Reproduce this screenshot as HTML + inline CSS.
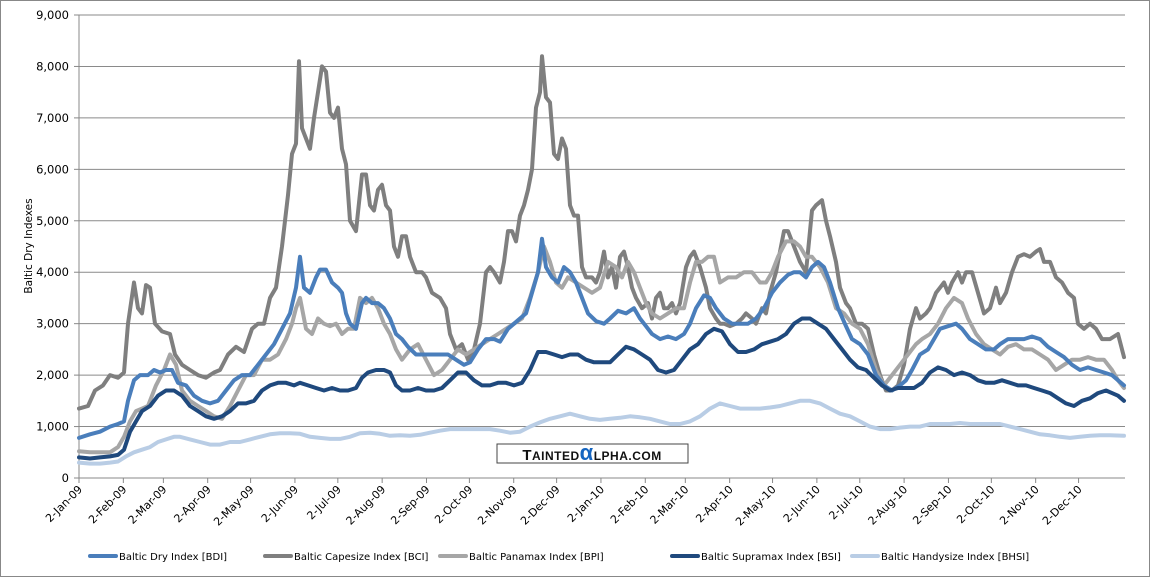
<!DOCTYPE html>
<html><head><meta charset="utf-8"><style>
html,body{margin:0;padding:0;background:#fff}
svg{display:block;font-family:"DejaVu Sans","Liberation Sans",sans-serif}
</style></head><body>
<svg id="s" width="1150" height="577" xmlns="http://www.w3.org/2000/svg">
<rect x="0.5" y="0.5" width="1149" height="576" fill="#fff" stroke="#888"/>
<g id="grid"></g>
<g id="lines" fill="none" stroke-width="4" stroke-linejoin="round" stroke-linecap="round"></g>
<rect x="497" y="444" width="191" height="19" fill="#fff" stroke="#444"/>
<text x="592" y="460" text-anchor="middle" font-family="Liberation Sans,sans-serif" font-size="15" font-weight="bold" fill="#111" letter-spacing="0.5">T<tspan font-size="12">AINTED</tspan><tspan fill="#1565c0" font-size="22" font-weight="bold">α</tspan><tspan font-size="12">LPHA.COM</tspan></text>
<text transform="translate(32,246) rotate(-90)" text-anchor="middle" font-size="10.5" fill="#000">Baltic Dry Indexes</text>
<g id="legend" font-size="10"></g>
</svg>
<script>
const NS="http://www.w3.org/2000/svg";
function el(t,a,p,txt){const e=document.createElementNS(NS,t);for(const k in a)e.setAttribute(k,a[k]);if(txt)e.textContent=txt;p.appendChild(e);return e;}
const X0=79,X1=1125,Y0=478,YT=15;
const yv=v=>Y0-(Y0-YT)*v/9000;
const g=document.getElementById('grid');
for(let i=0;i<=9;i++){const y=yv(i*1000);
 if(i>0) el('line',{x1:X0,x2:X1,y1:y,y2:y,stroke:'#8a8a8a','stroke-width':1},g);
 el('line',{x1:X0-5,x2:X0,y1:y,y2:y,stroke:'#888'},g);
 el('text',{x:69,y:y+4,'text-anchor':'end','font-size':11.5,fill:'#000'},g,i==0?'0':(i+',000'));}
el('line',{x1:X0,x2:X0,y1:YT,y2:Y0,stroke:'#888'},g);
el('line',{x1:X0,x2:X1,y1:Y0,y2:Y0,stroke:'#888'},g);
const months=["Jan","Feb","Mar","Apr","May","Jun","Jul","Aug","Sep","Oct","Nov","Dec"];
const ml=[31,28,31,30,31,30,31,31,30,31,30,31];
let d=0;
for(let i=0;i<24;i++){const x=X0+d*1.43;
 el('line',{x1:x,x2:x,y1:Y0,y2:Y0+5,stroke:'#888'},g);
 el('text',{x:0,y:0,'text-anchor':'end','font-size':11,fill:'#000',transform:`translate(${x+4},${Y0+12}) rotate(-45)`},g,`2-${months[i%12]}-${i<12?'09':'10'}`);
 d+=ml[i%12];}
const S={
bci:[[79,1350],[88,1400],[95,1700],[103,1800],[110,2000],[118,1950],[124,2050],[128,3000],[134,3800],[138,3300],[142,3200],[146,3750],[150,3700],[155,3000],[162,2850],[170,2800],[175,2400],[182,2200],[190,2100],[198,2000],[206,1950],[214,2050],[220,2100],[228,2400],[236,2550],[244,2450],[252,2900],[258,3000],[264,3000],[270,3500],[276,3700],[282,4500],[288,5500],[292,6300],[296,6500],[299,8100],[302,6800],[306,6600],[310,6400],[314,7000],[318,7500],[322,8000],[326,7900],[330,7100],[334,7000],[338,7200],[342,6400],[346,6100],[350,5000],[356,4800],[362,5900],[366,5900],[370,5300],[374,5200],[378,5600],[382,5700],[386,5300],[390,5200],[394,4500],[398,4300],[402,4700],[406,4700],[410,4300],[416,4000],[422,4000],[426,3900],[432,3600],[440,3500],[446,3300],[450,2800],[456,2500],[462,2600],[468,2300],[474,2500],[480,3000],[486,4000],[490,4100],[494,4000],[500,3800],[504,4200],[508,4800],[512,4800],[516,4600],[520,5100],[524,5300],[528,5600],[532,6000],[536,7200],[540,7500],[542,8200],[546,7400],[550,7300],[554,6300],[558,6200],[562,6600],[566,6400],[570,5300],[574,5100],[578,5100],[582,4100],[586,3900],[592,3900],[596,3800],[600,4000],[604,4400],[608,3900],[612,4100],[616,3700],[620,4300],[624,4400],[628,4100],[632,3700],[636,3500],[642,3300],[648,3400],[652,3100],[656,3500],[660,3600],[664,3300],[668,3300],[672,3400],[676,3200],[680,3400],[686,4100],[690,4300],[694,4400],[700,4100],[706,3700],[710,3300],[716,3100],[720,3000],[724,3000],[730,2950],[736,3000],[742,3100],[746,3200],[752,3100],[756,3000],[762,3300],[766,3200],[770,3600],[776,4000],[780,4400],[784,4800],[788,4800],[792,4600],[796,4400],[800,4200],[806,4000],[812,5200],[816,5300],[822,5400],[826,5000],[830,4700],[836,4200],[840,3700],[846,3400],[850,3300],[856,3000],[862,3000],[868,2900],[874,2400],[880,2000],[886,1700],[892,1700],[898,1800],[904,2200],[910,2900],[916,3300],[920,3100],[926,3200],[930,3300],[936,3600],[940,3700],[944,3800],[948,3600],[952,3800],[958,4000],[962,3800],[966,4000],[972,4000],[978,3600],[984,3200],[990,3300],[996,3700],[1000,3400],[1006,3600],[1012,4000],[1018,4300],[1024,4350],[1030,4300],[1036,4400],[1040,4450],[1044,4200],[1050,4200],[1056,3900],[1062,3800],[1068,3600],[1074,3500],[1078,3000],[1084,2900],[1090,3000],[1096,2900],[1102,2700],[1110,2700],[1118,2800],[1124,2350]],
bpi:[[79,520],[90,500],[100,500],[110,500],[118,600],[124,800],[130,1100],[136,1300],[142,1350],[148,1400],[156,1800],[164,2100],[170,2400],[176,2200],[182,1700],[190,1500],[198,1400],[206,1300],[214,1200],[222,1150],[230,1400],[238,1700],[246,2000],[254,2000],[262,2300],[270,2300],[278,2400],[286,2700],[292,3000],[296,3300],[300,3500],[306,2900],[312,2800],[318,3100],[324,3000],[330,2950],[336,3000],[342,2800],[348,2900],[354,2900],[360,3500],[366,3400],[372,3500],[378,3300],[384,3000],[390,2800],[396,2500],[402,2300],[410,2500],[418,2600],[426,2300],[434,2000],[442,2100],[450,2300],[458,2500],[466,2400],[474,2500],[482,2600],[490,2700],[498,2800],[506,2900],[514,3000],[522,3100],[530,3500],[538,4000],[544,4500],[550,4200],[556,3800],[562,3700],[568,3900],[576,3800],[584,3700],[592,3600],[600,3700],[608,4200],[616,4100],[622,3900],[628,4200],[634,4000],[640,3700],[646,3400],[652,3200],[660,3100],[668,3200],[676,3300],[684,3300],[690,3800],[696,4200],[702,4200],[708,4300],[714,4300],[720,3800],[728,3900],[736,3900],[744,4000],[752,4000],[760,3800],[766,3800],[772,4000],[778,4300],[786,4600],[794,4600],[800,4500],[806,4300],[812,4300],[820,4100],[828,3800],[836,3300],[844,3200],[852,3000],[860,2900],[868,2600],[876,2100],[884,1800],[892,2000],[900,2200],[908,2400],[916,2600],[922,2700],[930,2800],[938,3000],[946,3300],[954,3500],[962,3400],[968,3100],[976,2800],[984,2600],[992,2500],[1000,2400],[1008,2550],[1016,2600],[1024,2500],[1032,2500],[1040,2400],[1048,2300],[1056,2100],[1064,2200],[1072,2300],[1080,2300],[1088,2350],[1096,2300],[1104,2300],[1112,2100],[1118,1900],[1124,1750]],
bdi:[[79,780],[90,850],[100,900],[110,1000],[118,1050],[124,1100],[128,1500],[134,1900],[140,2000],[148,2000],[154,2100],[160,2050],[166,2100],[172,2100],[178,1850],[186,1800],[194,1600],[202,1500],[210,1450],[218,1500],[226,1700],[234,1900],[242,2000],[250,2000],[258,2200],[266,2400],[274,2600],[282,2900],[290,3200],[296,3700],[300,4300],[304,3700],[310,3600],[316,3900],[320,4050],[326,4050],[332,3800],[338,3700],[342,3600],[346,3200],[350,3000],[356,2900],[362,3400],[366,3500],[372,3400],[378,3400],[384,3300],[390,3100],[396,2800],[402,2700],[408,2550],[416,2400],[424,2400],[432,2400],[440,2400],[448,2400],[456,2300],[464,2200],[470,2250],[478,2500],[486,2700],[494,2700],[500,2650],[508,2900],[514,3000],[520,3100],[526,3200],[532,3600],[538,4000],[542,4650],[546,4100],[552,3900],[558,3800],[564,4100],[570,4000],[576,3800],[582,3500],[588,3200],[596,3050],[604,3000],[610,3100],[618,3250],[626,3200],[634,3300],[640,3100],[646,2950],[652,2800],[660,2700],[668,2750],[676,2700],[684,2800],[690,3000],[696,3300],[704,3550],[710,3500],[716,3300],[724,3100],[732,3000],[740,3000],[748,3000],[756,3100],[764,3300],[772,3600],[780,3800],[788,3950],[794,4000],[800,4000],[806,3900],[812,4100],[818,4200],[824,4100],[830,3800],[838,3300],[846,2950],[852,2700],[860,2600],[868,2400],[876,2000],[884,1800],[892,1700],[900,1800],[906,1900],[912,2100],[920,2400],[928,2500],[934,2700],[940,2900],[948,2950],[956,3000],[962,2900],[970,2700],[978,2600],[986,2500],[994,2500],[1000,2600],[1008,2700],[1016,2700],[1024,2700],[1032,2750],[1040,2700],[1048,2550],[1056,2450],[1064,2350],[1072,2200],[1080,2100],[1088,2150],[1096,2100],[1104,2050],[1112,2000],[1118,1900],[1124,1800]],
bsi:[[79,400],[90,380],[100,400],[110,420],[118,450],[124,550],[130,900],[136,1100],[142,1300],[150,1400],[158,1600],[166,1700],[174,1700],[182,1600],[190,1400],[198,1300],[206,1200],[214,1150],[222,1200],[230,1300],[238,1450],[246,1450],[254,1500],[262,1700],[270,1800],[278,1850],[286,1850],[294,1800],[300,1850],[308,1800],[316,1750],[324,1700],[332,1750],[340,1700],[348,1700],[356,1750],[362,1950],[368,2050],[376,2100],[384,2100],[390,2050],[396,1800],[402,1700],[410,1700],[418,1750],[426,1700],[434,1700],[442,1750],[450,1900],[458,2050],[466,2050],[474,1900],[482,1800],[490,1800],[498,1850],[506,1850],[514,1800],[522,1850],[530,2100],[538,2450],[546,2450],[554,2400],[562,2350],[570,2400],[578,2400],[586,2300],[594,2250],[602,2250],[610,2250],[618,2400],[626,2550],[634,2500],[642,2400],[650,2300],[658,2100],[666,2050],[674,2100],[682,2300],[690,2500],[698,2600],[706,2800],[714,2900],[722,2850],[730,2600],[738,2450],[746,2450],[754,2500],[762,2600],[770,2650],[778,2700],[786,2800],[794,3000],[802,3100],[810,3100],[818,3000],[826,2900],[834,2700],[842,2500],[850,2300],[858,2150],[866,2100],[874,1950],[882,1800],[890,1700],[898,1750],[906,1750],[914,1750],[922,1850],[930,2050],[938,2150],[946,2100],[954,2000],[962,2050],[970,2000],[978,1900],[986,1850],[994,1850],[1002,1900],[1010,1850],[1018,1800],[1026,1800],[1034,1750],[1042,1700],[1050,1650],[1058,1550],[1066,1450],[1074,1400],[1082,1500],[1090,1550],[1098,1650],[1106,1700],[1112,1650],[1118,1600],[1124,1500]],
bhsi:[[79,300],[90,280],[100,280],[110,300],[118,320],[126,420],[134,500],[142,550],[150,600],[158,700],[166,750],[174,800],[180,800],[190,750],[200,700],[210,650],[220,650],[230,700],[240,700],[250,750],[260,800],[270,850],[280,870],[290,870],[300,860],[310,800],[320,780],[330,760],[340,760],[350,800],[360,870],[370,880],[380,860],[390,820],[400,830],[410,820],[420,840],[430,880],[440,920],[450,950],[460,950],[470,950],[480,950],[490,950],[500,920],[510,880],[520,900],[530,1000],[540,1080],[550,1150],[560,1200],[570,1250],[580,1200],[590,1150],[600,1130],[610,1150],[620,1170],[630,1200],[640,1180],[650,1150],[660,1100],[670,1050],[680,1050],[690,1100],[700,1200],[710,1350],[720,1450],[730,1400],[740,1350],[750,1350],[760,1350],[770,1370],[780,1400],[790,1450],[800,1500],[810,1500],[820,1450],[830,1350],[840,1250],[850,1200],[860,1100],[870,1000],[880,950],[890,950],[900,980],[910,1000],[920,1000],[930,1050],[940,1050],[950,1050],[960,1070],[970,1050],[980,1050],[990,1050],[1000,1050],[1010,1000],[1020,950],[1030,900],[1040,850],[1050,830],[1060,800],[1070,780],[1080,800],[1090,820],[1100,830],[1110,830],[1124,820]]};
const C={bci:'#7f7f7f',bpi:'#a6a6a6',bdi:'#4a7ebb',bsi:'#1f497d',bhsi:'#b9cde5'};
const L=document.getElementById('lines');
for(const k of ['bci','bpi','bdi','bsi','bhsi'])
 el('polyline',{points:S[k].map(p=>p[0]+','+yv(p[1]).toFixed(1)).join(' '),stroke:C[k]},L);
const lg=document.getElementById('legend');
const items=[[88,'bdi','Baltic Dry Index [BDI]'],[263,'bci','Baltic Capesize Index [BCI]'],[438,'bpi','Baltic Panamax Index [BPI]'],[670,'bsi','Baltic Supramax Index [BSI]'],[850,'bhsi','Baltic Handysize Index [BHSI]']];
for(const [x,k,t] of items){
 el('line',{x1:x+2,x2:x+28,y1:556,y2:556,stroke:C[k],'stroke-width':4,'stroke-linecap':'round'},lg);
 el('text',{x:x+31,y:560,fill:'#000'},lg,t);}
</script>
</body></html>
